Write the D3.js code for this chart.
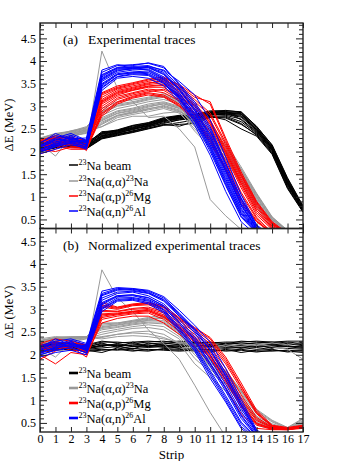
<!DOCTYPE html>
<html><head><meta charset="utf-8">
<script src="https://cdn.jsdelivr.net/npm/d3@7"></script>
<style>
body{margin:0;background:#fff}
svg{display:block}
svg text{font-family:"Liberation Serif","Noto Serif","DejaVu Serif","Times New Roman",serif;fill:#000}
</style>
</head><body>
<svg id="c" width="339" height="461"></svg>
<script>
// ---------------- DATA ----------------
const strips = [0,1,2,3,4,5,6,7,8,9,10,11,12,13,14,15,16,17];
const xTickLabels = ["0","1","2","3","4","5","6","7","8","9","10","11","12","13","14","15","16","17"];
const yTicks = [0.5,1,1.5,2,2.5,3,3.5,4,4.5];
const yTickLabels = ["0.5","1","1.5","2","2.5","3","3.5","4","4.5"];
const seriesColors = ["#000000","#999999","#ff0000","#0000ff"];
const panelTitles = ["Experimental traces","Normalized experimental traces"];
const panelTags = ["(a)","(b)"];

// Panel (a): experimental traces, dE (MeV) per strip
const beamA = [
 [2.05,2.12,2.15,2.10,2.32,2.38,2.45,2.55,2.62,2.70,2.74,2.80,2.84,2.80,2.45,2.05,1.30,0.72],
 [2.10,2.18,2.20,2.16,2.38,2.44,2.52,2.60,2.70,2.76,2.78,2.86,2.88,2.86,2.52,2.12,1.38,0.78],
 [2.00,2.08,2.12,2.06,2.28,2.35,2.42,2.50,2.58,2.60,2.62,2.76,2.74,2.60,2.38,1.98,1.22,0.68],
 [2.15,2.20,2.25,2.18,2.42,2.48,2.58,2.64,2.75,2.80,2.82,2.90,2.90,2.88,2.55,2.15,1.42,0.80],
 [2.08,2.14,2.18,2.12,2.35,2.40,2.50,2.56,2.66,2.72,2.76,2.82,2.80,2.72,2.44,2.02,1.28,0.70],
 [2.02,2.10,2.10,2.08,2.30,2.36,2.46,2.52,2.60,2.56,2.66,2.78,2.70,2.50,2.34,1.94,1.18,0.66],
 [2.12,2.16,2.22,2.14,2.40,2.46,2.54,2.62,2.72,2.78,2.80,2.84,2.86,2.82,2.50,2.08,1.34,0.74],
 [2.06,2.13,2.16,2.11,2.34,2.42,2.48,2.58,2.68,2.74,2.75,2.82,2.82,2.76,2.47,2.06,1.32,0.73],
 [2.04,2.11,2.14,2.09,2.30,2.40,2.44,2.54,2.64,2.70,2.73,2.78,2.78,2.66,2.40,2.00,1.25,0.70],
 [2.14,2.19,2.24,2.17,2.44,2.46,2.56,2.60,2.74,2.78,2.80,2.86,2.87,2.84,2.53,2.10,1.36,0.76],
 [2.09,2.15,2.19,2.13,2.36,2.43,2.51,2.58,2.69,2.75,2.77,2.84,2.83,2.78,2.49,2.09,1.33,0.75],
 [2.07,2.16,2.17,2.12,2.33,2.41,2.49,2.57,2.67,2.73,2.77,2.81,2.85,2.83,2.48,2.07,1.31,0.74],
 [2.11,2.17,2.21,2.15,2.39,2.45,2.53,2.61,2.71,2.77,2.79,2.87,2.89,2.70,2.42,2.03,1.27,0.71],
 [2.03,2.09,2.13,2.07,2.29,2.37,2.43,2.51,2.59,2.64,2.70,2.75,2.76,2.62,2.36,1.96,1.20,0.67],
 [2.13,2.21,2.23,2.19,2.41,2.47,2.57,2.63,2.73,2.79,2.81,2.88,2.91,2.87,2.56,2.14,1.40,0.79]
];
const scatA = [
 [2.20,2.30,2.38,2.45,2.70,2.85,2.92,3.00,3.05,2.95,2.55,2.20,1.90,1.40,0.85,0.40,0.20,0.10],
 [2.25,2.35,2.42,2.50,2.80,2.95,3.02,3.10,3.15,3.05,2.70,2.35,2.05,1.55,1.00,0.50,0.25,0.10],
 [2.15,2.28,2.35,2.40,2.60,2.78,2.85,2.92,2.98,2.88,2.45,2.10,1.82,1.30,0.75,0.35,0.15,0.10],
 [2.30,2.40,2.45,2.55,2.90,3.05,3.10,3.18,3.25,3.12,2.80,2.45,2.15,1.60,1.05,0.55,0.25,0.10],
 [2.18,1.90,2.32,2.42,2.65,2.80,2.88,2.95,3.00,2.90,2.60,2.28,1.95,1.45,0.90,0.45,0.20,0.10],
 [2.22,2.32,2.40,2.48,2.75,2.90,2.96,3.05,3.10,3.00,2.65,2.30,2.00,1.50,0.95,0.48,0.22,0.10],
 [2.28,2.38,2.44,2.52,2.85,3.00,3.06,3.14,3.20,3.08,2.75,2.40,2.10,1.58,1.02,0.52,0.24,0.10],
 [2.12,2.25,2.36,2.44,2.55,2.75,2.82,2.88,2.95,2.85,2.50,2.15,1.85,1.35,0.80,0.38,0.18,0.10],
 [2.20,2.30,2.36,2.46,2.55,2.70,2.78,2.78,2.85,2.88,2.75,2.35,1.98,1.48,0.92,0.46,0.20,0.10],
 [2.26,2.36,2.46,2.52,2.95,3.10,3.14,3.20,3.28,3.15,2.85,2.50,2.20,1.66,1.08,0.56,0.26,0.10],
 [2.24,2.33,2.40,2.47,2.72,2.88,2.94,3.02,3.08,2.98,2.62,2.25,1.95,1.45,0.88,0.42,0.20,0.10],
 [2.16,2.26,2.34,2.42,2.62,2.80,2.86,2.94,3.02,2.92,2.58,2.22,1.88,1.38,0.82,0.40,0.18,0.10],
 [2.29,2.39,2.43,2.53,2.88,3.02,3.08,3.16,3.22,3.10,2.78,2.42,2.12,1.62,1.06,0.54,0.25,0.10],
 [2.21,2.31,2.39,2.49,2.68,2.84,2.90,2.98,3.06,2.96,2.68,2.32,2.02,1.52,0.98,0.50,0.23,0.10],
 [2.10,2.20,2.25,2.10,4.22,3.40,3.10,2.75,2.78,2.50,2.10,0.94,0.58,0.28,0.15,0.10,0.10,0.10]
];
const protA = [
 [2.10,2.20,2.15,2.12,3.00,3.22,3.30,3.38,3.35,3.15,2.85,2.45,1.80,1.10,0.55,0.20,0.10,0.10],
 [2.20,2.30,2.25,2.20,3.20,3.38,3.45,3.52,3.55,3.35,3.05,2.70,2.05,1.35,0.75,0.35,0.15,0.10],
 [2.05,2.00,2.10,2.08,2.85,3.10,3.22,3.30,3.25,3.05,2.75,2.30,1.65,0.95,0.48,0.20,0.10,0.10],
 [2.25,2.35,2.30,2.25,3.30,3.45,3.52,3.60,3.65,3.45,3.20,3.10,2.30,1.55,0.90,0.45,0.20,0.10],
 [2.15,2.25,2.20,2.18,3.10,3.30,3.38,3.45,3.48,3.25,2.95,2.60,1.95,1.25,0.65,0.30,0.12,0.10],
 [2.00,2.12,2.05,2.05,2.78,3.05,3.18,3.25,3.20,3.00,2.70,2.20,1.58,0.85,0.45,0.18,0.10,0.10],
 [2.18,2.28,2.22,2.15,3.15,3.35,3.42,3.50,3.58,3.40,3.10,2.80,2.15,1.45,0.82,0.40,0.18,0.10],
 [2.08,2.18,2.12,2.10,2.95,3.18,3.28,3.35,3.30,3.12,2.82,2.40,1.75,1.05,0.52,0.22,0.10,0.10],
 [2.22,2.32,2.28,2.22,3.25,3.40,3.48,3.55,3.62,3.48,3.25,3.05,2.25,1.50,0.88,0.42,0.18,0.10],
 [2.12,2.15,2.18,2.14,3.05,3.25,3.35,3.42,3.42,3.20,2.90,2.55,1.90,1.20,0.60,0.28,0.12,0.10],
 [1.95,2.05,2.30,2.02,2.90,3.15,3.25,3.32,3.38,3.22,2.95,2.62,2.00,1.30,0.70,0.32,0.14,0.10],
 [2.14,2.24,2.19,2.16,3.08,3.28,3.36,3.44,3.46,3.28,3.00,2.65,2.00,1.30,0.70,0.32,0.12,0.10],
 [2.02,2.16,2.08,2.07,2.82,3.08,3.20,3.28,3.22,3.02,2.72,2.25,1.62,0.90,0.46,0.19,0.10,0.10],
 [2.24,2.30,2.32,2.24,3.28,3.42,3.50,3.58,3.60,3.42,3.15,2.85,2.20,1.48,0.85,0.43,0.19,0.10],
 [2.16,2.22,2.16,2.13,3.12,3.32,3.40,3.48,3.52,3.32,3.02,2.68,2.10,1.40,0.78,0.38,0.16,0.10]
];
const neutA = [
 [2.00,2.10,2.20,2.10,3.40,3.65,3.70,3.68,3.50,3.15,2.65,2.00,1.25,0.55,0.20,0.10,0.10,0.10],
 [2.10,2.25,2.30,2.20,3.60,3.80,3.82,3.85,3.70,3.35,2.90,2.30,1.55,0.80,0.30,0.10,0.10,0.10],
 [1.95,2.05,2.15,2.08,3.35,3.62,3.66,3.62,3.45,3.10,2.58,1.92,1.12,0.45,0.15,0.10,0.10,0.10],
 [2.15,2.30,2.40,2.25,3.75,3.90,3.92,3.95,3.85,3.50,3.10,2.55,1.75,0.95,0.35,0.10,0.10,0.10],
 [2.05,2.18,2.25,2.15,3.50,3.72,3.76,3.78,3.60,3.25,2.78,2.15,1.40,0.68,0.25,0.10,0.10,0.10],
 [2.20,2.35,2.28,2.30,3.80,3.92,3.88,3.90,3.78,3.45,3.00,2.45,1.68,0.90,0.32,0.10,0.10,0.10],
 [2.08,2.15,2.35,2.12,3.55,3.75,3.80,3.82,3.65,3.30,2.82,2.20,1.45,0.72,0.26,0.10,0.10,0.10],
 [1.98,2.12,2.18,2.05,3.45,3.70,3.74,3.72,3.55,3.20,2.72,2.08,1.32,0.62,0.22,0.10,0.10,0.10],
 [2.12,2.28,2.22,2.22,3.65,3.85,3.86,3.88,3.80,3.55,3.25,2.70,1.88,1.05,0.38,0.12,0.10,0.10],
 [2.02,2.20,2.32,2.18,3.58,3.78,3.84,3.80,3.62,3.28,2.85,2.25,1.50,0.75,0.28,0.10,0.10,0.10],
 [2.18,2.40,2.26,2.24,3.70,3.86,3.90,3.96,3.88,3.48,3.05,2.50,1.72,0.98,0.36,0.10,0.10,0.10],
 [2.04,2.16,2.22,2.14,3.48,3.70,3.74,3.75,3.58,3.22,2.75,2.12,1.36,0.65,0.24,0.10,0.10,0.10],
 [2.14,2.26,2.36,2.24,3.68,3.84,3.85,3.87,3.75,3.40,2.95,2.38,1.62,0.85,0.31,0.10,0.10,0.10],
 [2.00,2.14,2.20,2.10,3.42,3.66,3.72,3.70,3.52,3.18,2.68,2.05,1.28,0.58,0.21,0.10,0.10,0.10],
 [2.10,2.22,2.27,2.20,3.62,3.82,3.84,3.86,3.72,3.38,2.92,2.34,1.58,0.82,0.30,0.10,0.10,0.10]
];

// Panel (b): normalized experimental traces
const beamB = [
 [2.05,2.10,2.12,2.08,2.10,2.12,2.08,2.12,2.10,2.08,2.10,2.12,2.08,2.10,2.06,2.10,2.08,2.05],
 [2.15,2.20,2.18,2.15,2.20,2.22,2.18,2.20,2.22,2.18,2.20,2.22,2.18,2.22,2.20,2.18,2.20,2.16],
 [2.10,2.16,2.14,2.12,2.15,2.18,2.14,2.16,2.18,2.15,2.14,2.16,2.14,2.16,2.12,2.16,2.14,2.12],
 [2.22,2.26,2.24,2.20,2.28,2.28,2.25,2.28,2.30,2.25,2.26,2.28,2.24,2.30,2.28,2.25,2.28,2.25],
 [2.08,2.14,2.10,2.10,2.05,2.15,2.10,2.08,2.14,2.12,2.08,2.06,2.12,2.05,2.10,2.12,2.06,2.10],
 [2.18,2.22,2.20,2.18,2.24,2.20,2.22,2.24,2.26,2.22,2.24,2.25,2.22,2.26,2.24,2.22,2.24,2.20],
 [2.12,2.18,2.16,2.14,2.18,2.25,2.18,2.22,2.16,2.20,2.18,2.20,2.16,2.18,2.16,2.20,2.18,2.14],
 [2.20,2.24,2.22,2.16,2.26,2.16,2.28,2.18,2.24,2.28,2.22,2.18,2.26,2.24,2.26,2.28,2.22,2.28],
 [2.14,2.12,2.20,2.12,2.22,2.20,2.12,2.26,2.20,2.14,2.28,2.22,2.20,2.14,2.22,2.14,2.26,2.22],
 [2.06,2.12,2.14,2.10,2.12,2.10,2.14,2.10,2.12,2.10,2.12,2.10,2.10,2.12,2.08,2.08,2.10,2.08],
 [2.24,2.28,2.26,2.22,2.30,2.26,2.28,2.30,2.28,2.30,2.28,2.26,2.28,2.28,2.30,2.28,2.30,2.30],
 [2.16,2.20,2.18,2.16,2.20,2.22,2.20,2.18,2.20,2.22,2.20,2.18,2.20,2.20,2.18,2.22,2.18,2.18]
];
const scatB = [
 [2.30,2.38,2.38,2.40,2.55,2.60,2.66,2.70,2.68,2.45,2.05,1.72,1.45,1.00,0.60,0.40,0.36,0.45],
 [2.20,2.30,2.35,2.38,2.65,2.68,2.74,2.78,2.80,2.52,2.15,1.85,1.60,1.18,0.75,0.52,0.38,0.55],
 [2.15,1.95,2.28,2.35,2.40,2.45,2.50,2.52,2.45,2.25,1.80,1.50,1.20,0.78,0.45,0.36,0.35,0.42],
 [2.25,2.35,2.36,2.40,2.60,2.65,2.70,2.75,2.75,2.50,2.10,1.78,1.52,1.08,0.65,0.45,0.37,0.50],
 [2.35,2.40,2.38,2.40,2.70,2.70,2.76,2.82,2.88,2.55,2.18,1.90,1.65,1.22,0.80,0.56,0.40,0.60],
 [2.18,2.32,2.30,2.36,2.45,2.52,2.58,2.60,2.55,2.35,1.92,1.62,1.35,0.90,0.52,0.38,0.36,0.40],
 [2.22,2.34,2.36,2.38,2.35,2.40,2.42,2.40,2.35,2.28,2.22,2.25,2.18,2.24,2.20,2.26,2.22,2.30],
 [2.28,2.36,2.34,2.40,2.38,2.45,2.48,2.46,2.38,2.25,2.20,2.15,2.22,2.18,2.24,2.18,2.12,1.90],
 [2.32,2.38,2.40,2.40,2.62,2.66,2.72,2.76,2.84,2.58,2.12,1.82,1.58,1.15,0.70,0.48,0.38,0.52],
 [2.26,2.36,2.37,2.40,2.58,2.62,2.68,2.72,2.72,2.48,2.08,1.75,1.48,1.04,0.62,0.42,0.36,0.48],
 [2.20,2.34,2.32,2.38,2.50,2.56,2.62,2.66,2.62,2.40,2.00,1.68,1.40,0.95,0.56,0.40,0.36,0.44],
 [2.30,2.38,2.39,2.40,2.68,2.70,2.74,2.80,2.82,2.56,2.20,1.88,1.62,1.20,0.78,0.54,0.39,0.58],
 [2.10,2.20,2.25,2.05,3.87,3.25,2.95,2.55,2.25,1.90,1.33,0.73,0.20,0.10,0.10,0.10,0.10,0.10]
];
const protB = [
 [2.10,2.25,2.15,2.05,2.85,2.90,2.95,2.98,2.85,2.60,2.35,2.00,1.50,0.95,0.50,0.38,0.36,0.40],
 [2.20,2.30,2.22,2.15,3.05,3.00,3.08,3.10,3.00,2.75,2.50,2.25,1.80,1.25,0.70,0.42,0.38,0.44],
 [2.00,1.80,2.05,2.00,2.70,2.80,2.85,2.85,2.70,2.45,2.18,1.80,1.28,0.70,0.38,0.35,0.35,0.38],
 [2.25,2.35,2.30,2.22,3.15,3.05,3.12,3.15,3.08,2.82,2.60,2.38,1.95,1.38,0.78,0.45,0.40,0.45],
 [2.15,2.20,2.10,2.10,2.95,2.95,3.00,3.02,2.92,2.65,2.40,2.10,1.62,1.05,0.58,0.40,0.36,0.42],
 [2.05,2.12,2.18,1.95,2.78,2.85,2.90,2.92,2.78,2.52,2.28,1.92,1.40,0.85,0.45,0.36,0.35,0.40],
 [2.18,2.28,2.25,2.18,3.08,3.02,3.10,3.12,3.04,2.80,2.58,2.35,1.90,1.32,0.74,0.44,0.38,0.43],
 [2.12,2.15,2.20,2.08,2.90,2.92,2.96,3.00,2.88,2.62,2.38,2.05,1.55,1.00,0.55,0.39,0.37,0.41],
 [1.90,2.08,2.26,2.02,2.82,2.88,2.92,2.95,2.82,2.58,2.30,1.98,1.45,0.90,0.48,0.37,0.36,0.39],
 [2.14,2.22,2.20,2.12,2.98,2.96,3.02,3.05,2.95,2.70,2.45,2.18,1.70,1.12,0.62,0.41,0.37,0.42],
 [2.08,2.18,2.14,2.06,2.88,2.90,2.94,2.97,2.84,2.58,2.32,1.95,1.45,0.90,0.48,0.37,0.36,0.40],
 [2.22,2.26,2.28,2.20,3.10,3.04,3.10,3.14,3.05,2.78,2.55,2.30,1.85,1.30,0.72,0.43,0.38,0.44]
];
const neutB = [
 [2.00,2.10,2.15,2.05,3.00,3.20,3.22,3.15,2.95,2.55,2.12,1.55,1.00,0.42,0.15,0.10,0.10,0.10],
 [2.10,2.20,2.25,2.15,3.20,3.35,3.38,3.30,3.12,2.78,2.40,1.90,1.35,0.75,0.25,0.10,0.10,0.10],
 [1.95,2.05,2.10,2.00,2.95,3.18,3.20,3.12,2.92,2.50,2.08,1.48,0.96,0.38,0.12,0.10,0.10,0.10],
 [2.20,2.30,2.35,2.25,3.40,3.48,3.46,3.42,3.28,2.98,2.65,2.28,1.70,1.02,0.35,0.10,0.10,0.10],
 [2.05,2.15,2.20,2.10,3.10,3.28,3.30,3.22,3.05,2.68,2.28,1.75,1.20,0.60,0.20,0.10,0.10,0.10],
 [2.15,2.35,2.22,2.20,3.30,3.42,3.44,3.38,3.20,2.88,2.52,2.10,1.52,0.88,0.30,0.10,0.10,0.10],
 [2.08,2.12,2.30,2.08,3.15,3.30,3.32,3.26,3.08,2.72,2.35,1.82,1.28,0.68,0.22,0.10,0.10,0.10],
 [2.12,2.25,2.18,2.18,3.25,3.38,3.40,3.35,3.18,2.85,2.48,2.00,1.45,0.82,0.28,0.10,0.10,0.10],
 [2.02,2.18,2.28,2.12,3.05,3.25,3.26,3.20,3.00,2.62,2.20,1.65,1.10,0.52,0.18,0.10,0.10,0.10],
 [2.18,2.22,2.32,2.22,3.35,3.46,3.45,3.40,3.25,2.92,2.58,2.18,1.60,0.95,0.32,0.10,0.10,0.10],
 [2.06,2.16,2.22,2.12,3.12,3.30,3.32,3.25,3.08,2.72,2.32,1.80,1.25,0.65,0.22,0.10,0.10,0.10],
 [2.16,2.28,2.24,2.20,3.32,3.44,3.42,3.36,3.22,2.90,2.55,2.12,1.55,0.90,0.30,0.10,0.10,0.10],
 [2.00,2.10,2.16,2.04,3.02,3.22,3.24,3.18,2.98,2.58,2.15,1.60,1.05,0.48,0.16,0.10,0.10,0.10]
];

// ---------------- CHART ----------------
const svg = d3.select("#c");
const x = d3.scaleLinear().domain([0,17]).range([40,303]);
const minorY = d3.range(0.4,4.81,0.1).map(v=>+v.toFixed(1)).filter(v=>Math.abs(v*2-Math.round(v*2))>1e-6);

const panels = [
 {top:23, bottom:228.5, domain:[0.3,4.84], series:[beamA,scatA,protA,neutA], legY:[165,181,196,211], legW:1.5, ylab:125},
 {top:228.5, bottom:432, domain:[0.3,4.78], series:[beamB,scatB,protB,neutB], legY:[373,388,403,418], legW:2.6, ylab:312}
];

const legendItems = [
 [["23",true],["Na beam",false]],
 [["23",true],["Na(α,α)",false],["23",true],["Na",false]],
 [["23",true],["Na(α,p)",false],["26",true],["Mg",false]],
 [["23",true],["Na(α,n)",false],["26",true],["Al",false]]
];

panels.forEach((p,pi)=>{
  const y = d3.scaleLinear().domain(p.domain).range([p.bottom,p.top]);
  const g = svg.append("g");
  const cid = "clip"+pi;
  svg.append("clipPath").attr("id",cid).append("rect")
    .attr("x",40).attr("y",p.top).attr("width",263).attr("height",p.bottom-p.top);
  const line = d3.line().x((d,i)=>x(strips[i])).y(d=>y(d));
  const lg = g.append("g").attr("clip-path",`url(#${cid})`);
  p.series.forEach((traces,si)=>{
    lg.selectAll(null).data(traces).enter().append("path")
      .attr("d",line).attr("fill","none")
      .attr("stroke",seriesColors[si]).attr("stroke-width",1)
      .attr("stroke-linejoin","round");
  });

  const ax = (a)=>a.tickSizeOuter(0);
  g.append("g").attr("transform","translate(40,0)")
    .call(ax(d3.axisLeft(y).tickValues(yTicks).tickFormat((d,i)=>yTickLabels[i]).tickSizeInner(-7).tickPadding(4)));
  g.append("g").attr("transform","translate(40,0)")
    .call(ax(d3.axisLeft(y).tickValues(minorY).tickFormat("").tickSizeInner(-4)));
  g.append("g").attr("transform","translate(303,0)")
    .call(ax(d3.axisRight(y).tickValues(yTicks).tickFormat("").tickSizeInner(-7)));
  g.append("g").attr("transform","translate(303,0)")
    .call(ax(d3.axisRight(y).tickValues(minorY).tickFormat("").tickSizeInner(-4)));
  g.append("g").attr("transform",`translate(0,${p.top})`)
    .call(ax(d3.axisTop(x).tickValues(strips).tickFormat("").tickSizeInner(-5)));
  g.append("g").attr("transform",`translate(0,${p.bottom})`)
    .call(ax(d3.axisBottom(x).tickValues(strips)
      .tickFormat(pi===1?(d,i)=>xTickLabels[i]:"").tickSizeInner(-5).tickPadding(2.5)));
  g.selectAll(".domain").remove();
  g.selectAll("g").attr("font-family",null);
  g.selectAll(".tick line").attr("stroke","#222").attr("stroke-width",1);
  g.selectAll(".tick text").attr("font-size",12).attr("fill","#000");

  g.append("rect").attr("x",40).attr("y",p.top).attr("width",263).attr("height",p.bottom-p.top)
    .attr("fill","none").attr("stroke","#222").attr("stroke-width",1.4);

  g.append("text").attr("x",63).attr("y",p.top+21).attr("font-size",13.5).text(panelTags[pi]);
  g.append("text").attr("x",88).attr("y",p.top+21).attr("font-size",13.5).text(panelTitles[pi]);

  g.append("text").attr("transform",`translate(13,${p.ylab}) rotate(-90)`)
    .attr("text-anchor","middle").attr("font-size",12.5).text("ΔE (MeV)");

  legendItems.forEach((parts,li)=>{
    const ly = p.legY[li];
    g.append("line").attr("x1",69).attr("x2",78).attr("y1",ly).attr("y2",ly)
      .attr("stroke",seriesColors[li]).attr("stroke-width",p.legW);
    const t = g.append("text").attr("x",78.5).attr("y",ly+4.5).attr("font-size",12.5);
    let prevSup = false;
    parts.forEach(([s,sup])=>{
      const ts = t.append("tspan").text(s);
      if(sup){ ts.attr("font-size",8).attr("dy",prevSup?0:-5); }
      else { ts.attr("dy",prevSup?5:0); }
      prevSup = sup;
    });
  });
});

svg.append("text").attr("x",171.5).attr("y",458.5).attr("text-anchor","middle")
  .attr("font-size",13).text("Strip");
</script>
</body></html>
